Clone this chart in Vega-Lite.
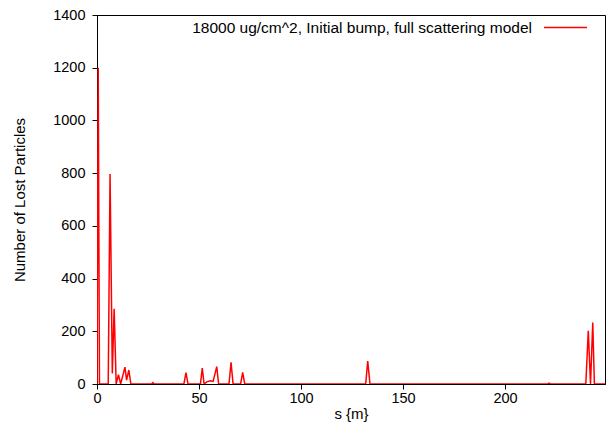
{
  "$schema": "https://vega.github.io/schema/vega-lite/v6.json",
  "width": 508,
  "height": 369,
  "autosize": "none",
  "padding": {"left": 97, "top": 15, "right": 2, "bottom": 50},
  "background": "white",
  "config": {
    "view": {"stroke": "black", "strokeWidth": 1},
    "font": "Liberation Sans",
    "axis": {
      "grid": false,
      "domainColor": "black",
      "labelColor": "black",
      "titleColor": "black",
      "labelFont": "Liberation Sans",
      "titleFont": "Liberation Sans",
      "labelFontSize": 14.5,
      "titleFontSize": 15,
      "titleFontWeight": "normal"
    }
  },
  "data": {
    "values": [
      {"s": 0, "n": 0, "series": "18000 ug/cm^2, Initial bump, full scattering model"},
      {"s": 0.6, "n": 1200, "series": "18000 ug/cm^2, Initial bump, full scattering model"},
      {"s": 1.2, "n": 0, "series": "18000 ug/cm^2, Initial bump, full scattering model"},
      {"s": 5.5, "n": 0, "series": "18000 ug/cm^2, Initial bump, full scattering model"},
      {"s": 6.4, "n": 797, "series": "18000 ug/cm^2, Initial bump, full scattering model"},
      {"s": 7.5, "n": 40, "series": "18000 ug/cm^2, Initial bump, full scattering model"},
      {"s": 8.4, "n": 285, "series": "18000 ug/cm^2, Initial bump, full scattering model"},
      {"s": 9.4, "n": 0, "series": "18000 ug/cm^2, Initial bump, full scattering model"},
      {"s": 10.5, "n": 35, "series": "18000 ug/cm^2, Initial bump, full scattering model"},
      {"s": 11.6, "n": 0, "series": "18000 ug/cm^2, Initial bump, full scattering model"},
      {"s": 13.7, "n": 64, "series": "18000 ug/cm^2, Initial bump, full scattering model"},
      {"s": 14.5, "n": 15, "series": "18000 ug/cm^2, Initial bump, full scattering model"},
      {"s": 15.6, "n": 53, "series": "18000 ug/cm^2, Initial bump, full scattering model"},
      {"s": 16.6, "n": 0, "series": "18000 ug/cm^2, Initial bump, full scattering model"},
      {"s": 26.8, "n": 0, "series": "18000 ug/cm^2, Initial bump, full scattering model"},
      {"s": 27.4, "n": 5, "series": "18000 ug/cm^2, Initial bump, full scattering model"},
      {"s": 28, "n": 0, "series": "18000 ug/cm^2, Initial bump, full scattering model"},
      {"s": 42.6, "n": 0, "series": "18000 ug/cm^2, Initial bump, full scattering model"},
      {"s": 43.6, "n": 43, "series": "18000 ug/cm^2, Initial bump, full scattering model"},
      {"s": 44.6, "n": 0, "series": "18000 ug/cm^2, Initial bump, full scattering model"},
      {"s": 50.7, "n": 0, "series": "18000 ug/cm^2, Initial bump, full scattering model"},
      {"s": 51.6, "n": 60, "series": "18000 ug/cm^2, Initial bump, full scattering model"},
      {"s": 52.5, "n": 0, "series": "18000 ug/cm^2, Initial bump, full scattering model"},
      {"s": 53.8, "n": 8, "series": "18000 ug/cm^2, Initial bump, full scattering model"},
      {"s": 55.5, "n": 12, "series": "18000 ug/cm^2, Initial bump, full scattering model"},
      {"s": 56.9, "n": 10, "series": "18000 ug/cm^2, Initial bump, full scattering model"},
      {"s": 58.7, "n": 66, "series": "18000 ug/cm^2, Initial bump, full scattering model"},
      {"s": 59.6, "n": 0, "series": "18000 ug/cm^2, Initial bump, full scattering model"},
      {"s": 64.7, "n": 0, "series": "18000 ug/cm^2, Initial bump, full scattering model"},
      {"s": 65.7, "n": 82, "series": "18000 ug/cm^2, Initial bump, full scattering model"},
      {"s": 66.7, "n": 0, "series": "18000 ug/cm^2, Initial bump, full scattering model"},
      {"s": 70.4, "n": 0, "series": "18000 ug/cm^2, Initial bump, full scattering model"},
      {"s": 71.4, "n": 44, "series": "18000 ug/cm^2, Initial bump, full scattering model"},
      {"s": 72.4, "n": 0, "series": "18000 ug/cm^2, Initial bump, full scattering model"},
      {"s": 131.7, "n": 0, "series": "18000 ug/cm^2, Initial bump, full scattering model"},
      {"s": 132.7, "n": 87, "series": "18000 ug/cm^2, Initial bump, full scattering model"},
      {"s": 133.8, "n": 0, "series": "18000 ug/cm^2, Initial bump, full scattering model"},
      {"s": 221, "n": 0, "series": "18000 ug/cm^2, Initial bump, full scattering model"},
      {"s": 221.6, "n": 3, "series": "18000 ug/cm^2, Initial bump, full scattering model"},
      {"s": 222.2, "n": 0, "series": "18000 ug/cm^2, Initial bump, full scattering model"},
      {"s": 239.6, "n": 0, "series": "18000 ug/cm^2, Initial bump, full scattering model"},
      {"s": 240.8, "n": 202, "series": "18000 ug/cm^2, Initial bump, full scattering model"},
      {"s": 241.9, "n": 0, "series": "18000 ug/cm^2, Initial bump, full scattering model"},
      {"s": 243, "n": 233, "series": "18000 ug/cm^2, Initial bump, full scattering model"},
      {"s": 243.8, "n": 0, "series": "18000 ug/cm^2, Initial bump, full scattering model"},
      {"s": 249, "n": 0, "series": "18000 ug/cm^2, Initial bump, full scattering model"}
    ]
  },
  "layer": [
    {
      "mark": {"type": "line", "strokeWidth": 1.5, "clip": true},
      "encoding": {
        "x": {
          "field": "s", "type": "quantitative",
          "scale": {"domain": [0, 249], "nice": false, "zero": false},
          "axis": {"title": "s {m}", "format": "d", "values": [0, 50, 100, 150, 200], "ticks": true, "tickSize": 5, "tickColor": "black", "tickWidth": 1, "labelPadding": 2, "titlePadding": 2, "labelFlush": false}
        },
        "y": {
          "field": "n", "type": "quantitative",
          "scale": {"domain": [0, 1400], "nice": false},
          "axis": {"title": "Number of Lost Particles", "format": "d", "values": [0, 200, 400, 600, 800, 1000, 1200, 1400], "ticks": true, "tickSize": 5, "tickColor": "black", "tickWidth": 1, "labelPadding": 7, "titlePadding": 25, "labelFlush": false}
        },
        "color": {
          "field": "series", "type": "nominal",
          "scale": {"range": ["#ff0000"]},
          "legend": {
            "title": null,
            "orient": "none",
            "legendX": 446,
            "legendY": -10,
            "symbolType": "stroke",
            "symbolSize": 1849,
            "symbolStrokeWidth": 1.5,
            "labelAlign": "right",
            "labelOffset": -56,
            "labelFont": "Liberation Sans",
            "labelFontSize": 15.5,
            "labelColor": "black",
            "labelLimit": 600
          }
        }
      }
    }
  ]
}
